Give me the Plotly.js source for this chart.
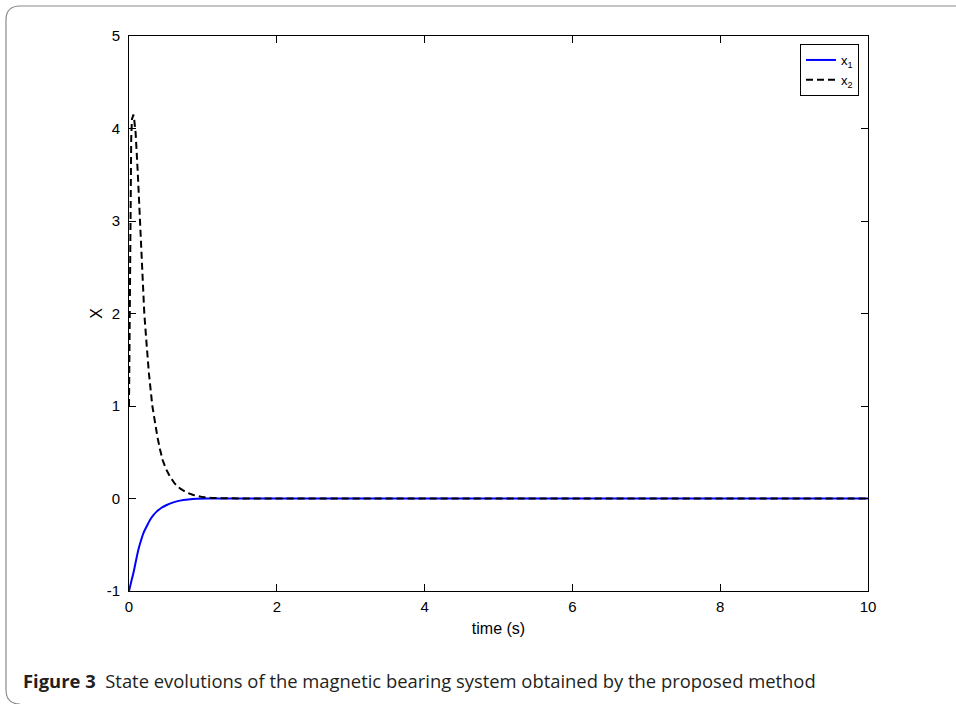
<!DOCTYPE html>
<html>
<head>
<meta charset="utf-8">
<script src="https://cdn.plot.ly/plotly-3.0.1.min.js"></script>
<style>
html,body{margin:0;padding:0;background:#fff;}
#chart{width:956px;height:704px;}
</style>
</head>
<body>
<div id="chart"></div>
<script>
// ---- data ----
const tX1 = [0, 0.03, 0.058, 0.09, 0.126, 0.16, 0.194, 0.24, 0.284, 0.33, 0.374, 0.44, 0.51, 0.6, 0.69, 0.8, 0.916, 1.1, 1.5, 2, 4, 6, 8, 10];
const x1  = [-1, -0.9, -0.81, -0.69, -0.557, -0.46, -0.376, -0.3, -0.232, -0.18, -0.142, -0.1, -0.07, -0.042, -0.023, -0.01, -0.002, 0, 0, 0, 0, 0, 0, 0];

const tX2 = [0, 0.005, 0.01, 0.015, 0.02, 0.03, 0.04, 0.05, 0.06, 0.07, 0.09, 0.12, 0.149, 0.18, 0.207, 0.24, 0.27, 0.316, 0.35, 0.384, 0.42, 0.455, 0.5, 0.555, 0.62, 0.69, 0.78, 0.87, 1.0, 1.12, 1.5, 2, 4, 6, 8, 10];
const x2  = [1, 1.7, 2.4, 3.0, 3.4, 3.9, 4.1, 4.15, 4.15, 4.1, 3.95, 3.5, 3.0, 2.45, 2.0, 1.65, 1.35, 1.0, 0.82, 0.668, 0.53, 0.416, 0.32, 0.236, 0.16, 0.11, 0.065, 0.038, 0.015, 0.005, 0, 0, 0, 0, 0, 0];

const xTickVals = [0, 2, 4, 6, 8, 10];
const xTickText = ['0', '2', '4', '6', '8', '10'];
const yTickVals = [-1, 0, 1, 2, 3, 4, 5];
const yTickText = ['-1', '0', '1', '2', '3', '4', '5'];

const seriesNames = ['x<sub>1</sub>', 'x<sub>2</sub>'];
const xTitle = 'time (s)';
const yTitle = 'X';
const captionBold = 'Figure 3';
const captionText = 'State evolutions of the magnetic bearing system obtained by the proposed method';

// ---- layout helpers (pixel -> paper) ----
const W = 956, H = 704;
const L = 129, R = 868, T = 36, B = 591;
const px = x => (x - L) / (R - L);
const py = y => (B - y) / (B - T);

const framePath = 'M ' + px(960) + ',' + py(6) +
  ' L ' + px(20) + ',' + py(6) +
  ' Q ' + px(6) + ',' + py(6) + ' ' + px(6) + ',' + py(20) +
  ' L ' + px(6) + ',' + py(690) +
  ' Q ' + px(6) + ',' + py(704) + ' ' + px(20) + ',' + py(704);

const traces = [
  {x: tX1, y: x1, name: seriesNames[0], mode: 'lines', type: 'scatter',
   line: {color: '#0000ff', width: 2, shape: 'spline', smoothing: 0.8}},
  {x: tX2, y: x2, name: seriesNames[1], mode: 'lines', type: 'scatter',
   line: {color: '#000000', width: 2, dash: '7px,4px'}}
];

const FONT = 'Liberation Sans, Arial, sans-serif';
const tickFont = {family: FONT, size: 15, color: '#000'};
const titleFont = {family: FONT, size: 16, color: '#000'};

const layout = {
  width: W, height: H,
  margin: {l: L, r: W - R, t: T, b: H - B, pad: 0},
  paper_bgcolor: '#fff', plot_bgcolor: '#fff',
  showlegend: true,
  xaxis: {
    range: [0, 10], tickvals: xTickVals, ticktext: xTickText,
    ticks: 'inside', ticklen: 7, tickcolor: '#000', tickwidth: 1,
    showline: true, linecolor: '#000', linewidth: 1, mirror: 'ticks',
    showgrid: false, zeroline: false, tickfont: tickFont, ticklabelstandoff: 2,
    title: {text: xTitle, font: titleFont, standoff: 8}
  },
  yaxis: {
    range: [-1, 5], tickvals: yTickVals, ticktext: yTickText,
    ticks: 'inside', ticklen: 7, tickcolor: '#000', tickwidth: 1,
    showline: true, linecolor: '#000', linewidth: 1, mirror: 'ticks',
    showgrid: false, zeroline: false, tickfont: tickFont, ticklabelstandoff: 5,
    title: {text: yTitle, font: titleFont, standoff: 0}
  },
  legend: {
    x: px(859), y: py(44), xanchor: 'right', yanchor: 'top',
    bgcolor: '#fff', bordercolor: '#000', borderwidth: 1,
    font: {family: FONT, size: 13, color: '#000'},
    tracegroupgap: 0, itemwidth: 30
  },
  shapes: [
    {type: 'path', xref: 'paper', yref: 'paper', path: framePath,
     line: {color: '#8a8a8a', width: 1.2}, layer: 'above'}
  ],
  annotations: [
    {xref: 'paper', yref: 'paper', x: px(21), y: py(680), xanchor: 'left', yanchor: 'middle',
     showarrow: false, align: 'left',
     text: '<b>' + captionBold + '</b>  ' + captionText,
     font: {family: 'Open Sans, Noto Sans, sans-serif', size: 18.4, color: '#231f20'}}
  ]
};

Plotly.newPlot('chart', traces, layout, {displayModeBar: false, staticPlot: true});
</script>
</body>
</html>
